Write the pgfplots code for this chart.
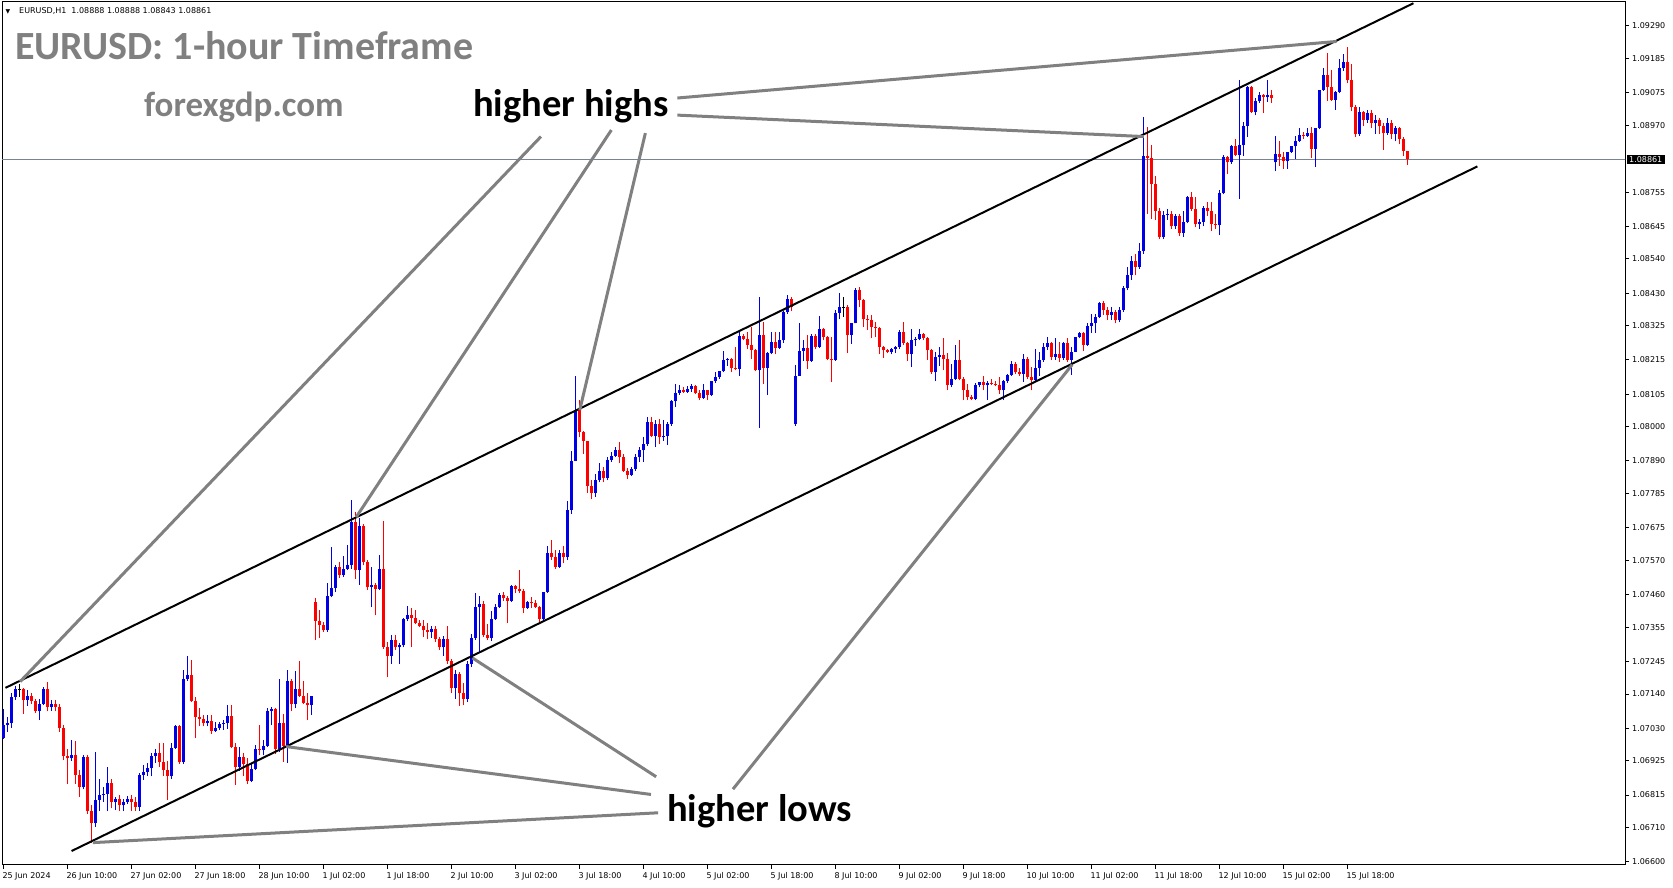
\documentclass[border=0pt]{standalone}
\usepackage{fontspec}
\setmainfont{DejaVu Sans}
\newfontfamily\carlito{Carlito}
\usepackage{pgfplots}
\usepackage{pgfplotstable}
\pgfplotsset{compat=1.18}

\definecolor{bull}{RGB}{0,0,230}
\definecolor{bear}{RGB}{255,0,0}
\definecolor{annot}{RGB}{128,128,128}
\definecolor{pline}{RGB}{120,132,148}

% EURUSD H1, one row per bar: index, open, high, low, close
\pgfplotstableread{
k o h l c
0 1.06998 1.07091 1.06995 1.07039
1 1.07039 1.07067 1.07019 1.07046
2 1.07046 1.07142 1.07032 1.07132
3 1.07132 1.07166 1.07122 1.07156
4 1.07156 1.07173 1.07132 1.07156
5 1.07156 1.07159 1.07077 1.07122
6 1.07122 1.07152 1.07101 1.07135
7 1.07135 1.07142 1.07108 1.07118
8 1.07118 1.07125 1.07080 1.07084
9 1.07084 1.07125 1.07056 1.07108
10 1.07108 1.07163 1.07104 1.07156
11 1.07156 1.07180 1.07084 1.07098
12 1.07098 1.07122 1.07087 1.07108
13 1.07108 1.07122 1.07084 1.07098
14 1.07098 1.07108 1.07019 1.07032
15 1.07032 1.07039 1.06929 1.06940
16 1.06940 1.06964 1.06851 1.06933
17 1.06933 1.06991 1.06926 1.06943
18 1.06943 1.06988 1.06851 1.06881
19 1.06881 1.06895 1.06809 1.06840
20 1.06840 1.06943 1.06833 1.06936
21 1.06936 1.06943 1.06754 1.06765
22 1.06765 1.06782 1.06662 1.06724
23 1.06724 1.06953 1.06713 1.06799
24 1.06799 1.06868 1.06765 1.06816
25 1.06816 1.06840 1.06792 1.06820
26 1.06820 1.06905 1.06765 1.06854
27 1.06854 1.06868 1.06772 1.06792
28 1.06792 1.06809 1.06768 1.06803
29 1.06803 1.06816 1.06765 1.06782
30 1.06782 1.06803 1.06765 1.06792
31 1.06792 1.06813 1.06785 1.06803
32 1.06803 1.06816 1.06765 1.06792
33 1.06792 1.06809 1.06765 1.06778
34 1.06778 1.06885 1.06765 1.06881
35 1.06881 1.06912 1.06864 1.06888
36 1.06888 1.06919 1.06875 1.06902
37 1.06902 1.06950 1.06875 1.06940
38 1.06940 1.06964 1.06919 1.06950
39 1.06950 1.06981 1.06905 1.06923
40 1.06923 1.06984 1.06875 1.06895
41 1.06895 1.06926 1.06799 1.06875
42 1.06875 1.06981 1.06868 1.06967
43 1.06967 1.07039 1.06964 1.07036
44 1.07036 1.07039 1.06916 1.06923
45 1.06923 1.07218 1.06916 1.07190
46 1.07190 1.07262 1.07183 1.07200
47 1.07200 1.07249 1.07115 1.07118
48 1.07118 1.07132 1.06998 1.07067
49 1.07067 1.07094 1.07036 1.07060
50 1.07060 1.07074 1.07036 1.07046
51 1.07046 1.07074 1.07036 1.07053
52 1.07053 1.07074 1.07012 1.07022
53 1.07022 1.07050 1.07019 1.07032
54 1.07032 1.07050 1.07026 1.07043
55 1.07043 1.07056 1.07026 1.07046
56 1.07046 1.07104 1.07029 1.07070
57 1.07070 1.07104 1.06967 1.06971
58 1.06971 1.06984 1.06847 1.06905
59 1.06905 1.06971 1.06892 1.06936
60 1.06936 1.06950 1.06875 1.06916
61 1.06916 1.06933 1.06851 1.06861
62 1.06861 1.06916 1.06857 1.06899
63 1.06899 1.06977 1.06895 1.06964
64 1.06964 1.07039 1.06943 1.06960
65 1.06960 1.06991 1.06943 1.06974
66 1.06974 1.07094 1.06971 1.07087
67 1.07087 1.07098 1.07039 1.07091
68 1.07091 1.07094 1.06947 1.06964
69 1.06964 1.07190 1.06953 1.07046
70 1.07046 1.07077 1.06923 1.06974
71 1.06974 1.07218 1.06919 1.07183
72 1.07183 1.07187 1.07087 1.07108
73 1.07108 1.07214 1.07094 1.07156
74 1.07156 1.07245 1.07132 1.07135
75 1.07135 1.07183 1.07108 1.07111
76 1.07111 1.07142 1.07056 1.07104
77 1.07104 1.07135 1.07074 1.07135
78 1.07437 1.07448 1.07314 1.07375
79 1.07375 1.07410 1.07321 1.07362
80 1.07362 1.07372 1.07341 1.07345
81 1.07345 1.07496 1.07341 1.07454
82 1.07454 1.07612 1.07451 1.07482
83 1.07482 1.07554 1.07468 1.07550
84 1.07550 1.07564 1.07513 1.07523
85 1.07523 1.07585 1.07516 1.07544
86 1.07544 1.07619 1.07540 1.07554
87 1.07554 1.07763 1.07544 1.07695
88 1.07695 1.07725 1.07509 1.07540
89 1.07540 1.07708 1.07492 1.07681
90 1.07681 1.07688 1.07554 1.07564
91 1.07564 1.07571 1.07475 1.07485
92 1.07485 1.07550 1.07420 1.07492
93 1.07492 1.07496 1.07393 1.07478
94 1.07478 1.07588 1.07475 1.07544
95 1.07544 1.07698 1.07286 1.07293
96 1.07293 1.07307 1.07194 1.07262
97 1.07262 1.07331 1.07238 1.07314
98 1.07314 1.07331 1.07283 1.07290
99 1.07290 1.07303 1.07238 1.07297
100 1.07297 1.07386 1.07290 1.07382
101 1.07382 1.07424 1.07375 1.07396
102 1.07396 1.07417 1.07293 1.07386
103 1.07386 1.07410 1.07365 1.07369
104 1.07369 1.07379 1.07355 1.07358
105 1.07358 1.07379 1.07324 1.07345
106 1.07345 1.07369 1.07317 1.07341
107 1.07341 1.07358 1.07321 1.07348
108 1.07348 1.07358 1.07307 1.07317
109 1.07317 1.07324 1.07283 1.07290
110 1.07290 1.07327 1.07262 1.07317
111 1.07317 1.07358 1.07238 1.07245
112 1.07245 1.07252 1.07142 1.07159
113 1.07159 1.07218 1.07125 1.07204
114 1.07204 1.07211 1.07101 1.07142
115 1.07142 1.07176 1.07104 1.07125
116 1.07125 1.07245 1.07115 1.07238
117 1.07238 1.07334 1.07228 1.07321
118 1.07321 1.07465 1.07314 1.07420
119 1.07420 1.07454 1.07273 1.07430
120 1.07430 1.07441 1.07324 1.07331
121 1.07331 1.07365 1.07314 1.07321
122 1.07321 1.07406 1.07310 1.07382
123 1.07382 1.07430 1.07379 1.07420
124 1.07420 1.07465 1.07417 1.07458
125 1.07458 1.07468 1.07441 1.07448
126 1.07448 1.07454 1.07369 1.07441
127 1.07441 1.07492 1.07437 1.07489
128 1.07489 1.07492 1.07465 1.07478
129 1.07478 1.07540 1.07465 1.07472
130 1.07472 1.07478 1.07400 1.07417
131 1.07417 1.07441 1.07413 1.07437
132 1.07437 1.07451 1.07417 1.07434
133 1.07434 1.07444 1.07417 1.07420
134 1.07420 1.07424 1.07365 1.07382
135 1.07382 1.07468 1.07375 1.07468
136 1.07468 1.07616 1.07465 1.07595
137 1.07595 1.07636 1.07571 1.07581
138 1.07581 1.07605 1.07544 1.07550
139 1.07550 1.07605 1.07547 1.07595
140 1.07595 1.07616 1.07561 1.07581
141 1.07581 1.07760 1.07571 1.07732
142 1.07732 1.07921 1.07719 1.07890
143 1.07890 1.08165 1.07890 1.08055
144 1.08055 1.08086 1.07966 1.07983
145 1.07983 1.07986 1.07914 1.07955
146 1.07955 1.07955 1.07787 1.07811
147 1.07811 1.07828 1.07767 1.07787
148 1.07787 1.07849 1.07774 1.07828
149 1.07828 1.07883 1.07821 1.07859
150 1.07859 1.07870 1.07821 1.07835
151 1.07835 1.07904 1.07828 1.07894
152 1.07894 1.07918 1.07887 1.07907
153 1.07907 1.07935 1.07904 1.07924
154 1.07924 1.07952 1.07883 1.07904
155 1.07904 1.07914 1.07856 1.07859
156 1.07859 1.07866 1.07832 1.07846
157 1.07846 1.07870 1.07842 1.07863
158 1.07863 1.07914 1.07859 1.07904
159 1.07904 1.07935 1.07887 1.07924
160 1.07924 1.07966 1.07887 1.07945
161 1.07945 1.08031 1.07938 1.08017
162 1.08017 1.08031 1.07966 1.07972
163 1.07972 1.08021 1.07935 1.08010
164 1.08010 1.08024 1.07945 1.07966
165 1.07966 1.08021 1.07955 1.07969
166 1.07969 1.08014 1.07942 1.08010
167 1.08010 1.08086 1.08003 1.08082
168 1.08082 1.08137 1.08065 1.08110
169 1.08110 1.08134 1.08103 1.08120
170 1.08120 1.08127 1.08110 1.08113
171 1.08113 1.08130 1.08110 1.08123
172 1.08123 1.08137 1.08113 1.08130
173 1.08130 1.08134 1.08106 1.08110
174 1.08110 1.08117 1.08086 1.08093
175 1.08093 1.08137 1.08089 1.08117
176 1.08117 1.08120 1.08086 1.08103
177 1.08103 1.08147 1.08099 1.08147
178 1.08147 1.08175 1.08141 1.08161
179 1.08161 1.08178 1.08154 1.08178
180 1.08178 1.08244 1.08175 1.08216
181 1.08216 1.08223 1.08195 1.08219
182 1.08219 1.08223 1.08175 1.08189
183 1.08189 1.08257 1.08182 1.08185
184 1.08185 1.08305 1.08165 1.08292
185 1.08292 1.08298 1.08278 1.08281
186 1.08281 1.08305 1.08250 1.08264
187 1.08264 1.08322 1.08219 1.08247
188 1.08247 1.08250 1.08178 1.08182
189 1.08182 1.08418 1.07997 1.08295
190 1.08295 1.08336 1.08137 1.08189
191 1.08189 1.08240 1.08103 1.08237
192 1.08237 1.08305 1.08233 1.08274
193 1.08274 1.08305 1.08233 1.08254
194 1.08254 1.08305 1.08250 1.08278
195 1.08278 1.08374 1.08271 1.08370
196 1.08370 1.08425 1.08364 1.08412
197 1.08412 1.08418 1.08374 1.08384
198 1.08010 1.08199 1.08003 1.08165
199 1.08165 1.08333 1.08165 1.08244
200 1.08244 1.08278 1.08213 1.08254
201 1.08254 1.08295 1.08185 1.08213
202 1.08213 1.08298 1.08209 1.08292
203 1.08292 1.08298 1.08250 1.08257
204 1.08257 1.08357 1.08254 1.08316
205 1.08316 1.08319 1.08278 1.08288
206 1.08288 1.08292 1.08216 1.08219
207 1.08219 1.08288 1.08144 1.08216
208 1.08216 1.08377 1.08213 1.08367
209 1.08367 1.08429 1.08346 1.08384
210 1.08384 1.08418 1.08353 1.08384
211 1.08384 1.08391 1.08237 1.08295
212 1.08295 1.08333 1.08268 1.08333
213 1.08333 1.08446 1.08333 1.08439
214 1.08439 1.08449 1.08384 1.08408
215 1.08408 1.08412 1.08322 1.08346
216 1.08346 1.08360 1.08312 1.08343
217 1.08343 1.08360 1.08285 1.08322
218 1.08322 1.08336 1.08288 1.08319
219 1.08319 1.08322 1.08233 1.08257
220 1.08257 1.08261 1.08223 1.08247
221 1.08247 1.08250 1.08237 1.08240
222 1.08240 1.08254 1.08233 1.08250
223 1.08250 1.08261 1.08237 1.08257
224 1.08257 1.08312 1.08250 1.08305
225 1.08305 1.08336 1.08264 1.08271
226 1.08271 1.08274 1.08213 1.08233
227 1.08233 1.08316 1.08192 1.08278
228 1.08278 1.08288 1.08261 1.08281
229 1.08281 1.08316 1.08278 1.08298
230 1.08298 1.08302 1.08278 1.08285
231 1.08285 1.08288 1.08216 1.08247
232 1.08247 1.08250 1.08171 1.08175
233 1.08175 1.08240 1.08147 1.08226
234 1.08226 1.08257 1.08195 1.08230
235 1.08230 1.08285 1.08182 1.08219
236 1.08219 1.08237 1.08117 1.08134
237 1.08134 1.08202 1.08127 1.08154
238 1.08154 1.08264 1.08151 1.08216
239 1.08216 1.08278 1.08151 1.08154
240 1.08154 1.08161 1.08086 1.08120
241 1.08120 1.08137 1.08086 1.08096
242 1.08096 1.08103 1.08086 1.08089
243 1.08089 1.08141 1.08086 1.08134
244 1.08134 1.08144 1.08127 1.08144
245 1.08144 1.08165 1.08117 1.08134
246 1.08134 1.08147 1.08086 1.08141
247 1.08141 1.08154 1.08134 1.08137
248 1.08137 1.08147 1.08130 1.08134
249 1.08134 1.08161 1.08106 1.08117
250 1.08117 1.08151 1.08086 1.08147
251 1.08147 1.08171 1.08141 1.08168
252 1.08168 1.08213 1.08165 1.08202
253 1.08202 1.08209 1.08171 1.08175
254 1.08175 1.08189 1.08165 1.08171
255 1.08171 1.08233 1.08144 1.08219
256 1.08219 1.08226 1.08154 1.08161
257 1.08161 1.08192 1.08117 1.08151
258 1.08151 1.08250 1.08144 1.08189
259 1.08189 1.08240 1.08165 1.08216
260 1.08216 1.08271 1.08209 1.08257
261 1.08257 1.08288 1.08247 1.08271
262 1.08271 1.08274 1.08216 1.08226
263 1.08226 1.08285 1.08216 1.08233
264 1.08233 1.08274 1.08209 1.08223
265 1.08223 1.08274 1.08216 1.08271
266 1.08271 1.08285 1.08209 1.08216
267 1.08216 1.08257 1.08168 1.08240
268 1.08240 1.08288 1.08240 1.08288
269 1.08288 1.08305 1.08285 1.08302
270 1.08302 1.08305 1.08244 1.08264
271 1.08264 1.08333 1.08261 1.08326
272 1.08326 1.08364 1.08302 1.08333
273 1.08333 1.08364 1.08302 1.08353
274 1.08353 1.08401 1.08350 1.08398
275 1.08398 1.08405 1.08360 1.08377
276 1.08377 1.08384 1.08343 1.08360
277 1.08360 1.08384 1.08343 1.08370
278 1.08370 1.08377 1.08333 1.08343
279 1.08343 1.08384 1.08336 1.08377
280 1.08377 1.08453 1.08370 1.08446
281 1.08446 1.08515 1.08439 1.08487
282 1.08487 1.08549 1.08473 1.08532
283 1.08532 1.08556 1.08487 1.08515
284 1.08515 1.08590 1.08508 1.08566
285 1.08566 1.08998 1.08556 1.08871
286 1.08871 1.08964 1.08686 1.08865
287 1.08865 1.08906 1.08669 1.08782
288 1.08782 1.08806 1.08665 1.08696
289 1.08696 1.08703 1.08604 1.08611
290 1.08611 1.08696 1.08604 1.08683
291 1.08683 1.08700 1.08665 1.08686
292 1.08686 1.08696 1.08638 1.08645
293 1.08645 1.08686 1.08638 1.08679
294 1.08679 1.08686 1.08614 1.08624
295 1.08624 1.08693 1.08611 1.08659
296 1.08659 1.08744 1.08655 1.08738
297 1.08738 1.08755 1.08696 1.08700
298 1.08700 1.08738 1.08642 1.08652
299 1.08652 1.08669 1.08638 1.08659
300 1.08659 1.08710 1.08645 1.08703
301 1.08703 1.08724 1.08679 1.08693
302 1.08693 1.08724 1.08631 1.08652
303 1.08652 1.08686 1.08638 1.08648
304 1.08648 1.08762 1.08617 1.08751
305 1.08751 1.08875 1.08748 1.08868
306 1.08868 1.08871 1.08813 1.08851
307 1.08851 1.08906 1.08847 1.08902
308 1.08902 1.08926 1.08871 1.08875
309 1.08875 1.09115 1.08734 1.08906
310 1.08906 1.08981 1.08871 1.08967
311 1.08967 1.09098 1.08933 1.09094
312 1.09094 1.09098 1.09009 1.09012
313 1.09012 1.09057 1.09002 1.09050
314 1.09050 1.09077 1.09043 1.09067
315 1.09067 1.09070 1.09009 1.09060
316 1.09060 1.09115 1.09046 1.09067
317 1.09067 1.09084 1.09043 1.09057
318 1.08851 1.08937 1.08823 1.08878
319 1.08878 1.08919 1.08840 1.08868
320 1.08868 1.08885 1.08830 1.08854
321 1.08854 1.08885 1.08830 1.08885
322 1.08885 1.08902 1.08882 1.08902
323 1.08902 1.08937 1.08861 1.08919
324 1.08919 1.08961 1.08916 1.08940
325 1.08940 1.08950 1.08926 1.08937
326 1.08937 1.08961 1.08933 1.08947
327 1.08947 1.08964 1.08865 1.08895
328 1.08895 1.08961 1.08837 1.08961
329 1.08961 1.09084 1.08957 1.09084
330 1.09084 1.09153 1.09081 1.09132
331 1.09132 1.09204 1.09050 1.09094
332 1.09094 1.09149 1.09050 1.09053
333 1.09053 1.09081 1.09019 1.09077
334 1.09077 1.09184 1.09074 1.09153
335 1.09153 1.09201 1.09146 1.09173
336 1.09173 1.09221 1.09105 1.09115
337 1.09115 1.09166 1.09015 1.09029
338 1.09029 1.09036 1.08933 1.08943
339 1.08943 1.09029 1.08937 1.09012
340 1.09012 1.09015 1.08967 1.08988
341 1.08988 1.09019 1.08978 1.09009
342 1.09009 1.09019 1.08961 1.08978
343 1.08978 1.09002 1.08943 1.08988
344 1.08988 1.08995 1.08943 1.08967
345 1.08967 1.08978 1.08892 1.08947
346 1.08947 1.08995 1.08940 1.08978
347 1.08978 1.08988 1.08926 1.08943
348 1.08943 1.08967 1.08919 1.08961
349 1.08961 1.08964 1.08909 1.08926
350 1.08926 1.08933 1.08871 1.08888
351 1.08888 1.08888 1.08843 1.08861
}\candles

\begin{document}
\begin{tikzpicture}[x=1pt,y=1pt]
\path[use as bounding box, fill=white] (-2,-23) rectangle (1671,865);
\begin{axis}[
    scale only axis,
    width=1623pt, height=863pt,
    xmin=-0.33, xmax=405.4,
    ymin=1.06590, ymax=1.09367,
    axis line style={black, line width=1pt},
    tick align=outside,
    major tick length=4pt,
    tick style={black, line width=1pt},
    xtick pos=bottom,
    ytick pos=right,
    yticklabel pos=right,
    xtick={0,16,...,336},
    xticklabels={25 Jun 2024, 26 Jun 10:00, 27 Jun 02:00, 27 Jun 18:00, 28 Jun 10:00,
        1 Jul 02:00, 1 Jul 18:00, 2 Jul 10:00, 3 Jul 02:00, 3 Jul 18:00, 4 Jul 10:00,
        5 Jul 02:00, 5 Jul 18:00, 8 Jul 10:00, 9 Jul 02:00, 9 Jul 18:00, 10 Jul 10:00,
        11 Jul 02:00, 11 Jul 18:00, 12 Jul 10:00, 15 Jul 02:00, 15 Jul 18:00},
    ytick={1.09290,1.09185,1.09075,1.08970,1.08755,1.08645,1.08540,1.08430,1.08325,
        1.08215,1.08105,1.08000,1.07890,1.07785,1.07675,1.07570,1.07460,1.07355,
        1.07245,1.07140,1.07030,1.06925,1.06815,1.06710,1.06600},
    yticklabels={1.09290,1.09185,1.09075,1.08970,1.08755,1.08645,1.08540,1.08430,1.08325,
        1.08215,1.08105,1.08000,1.07890,1.07785,1.07675,1.07570,1.07460,1.07355,
        1.07245,1.07140,1.07030,1.06925,1.06815,1.06710,1.06600},
    xticklabel style={anchor=north west, inner sep=0pt, xshift=-1pt, yshift=-3pt,
        font=\fontsize{8}{9}\selectfont},
    yticklabel style={anchor=west, inner sep=0pt, xshift=3pt,
        font=\fontsize{8}{9}\selectfont},
    candle/.style 2 args={draw=none, no markers,
        error bars/y dir=plus, error bars/y explicit, error bars/error mark=none,
        error bars/error bar style={draw=#1, line width=#2}},
]
% current price line
\addplot[pline, line width=1pt] coordinates {(-1,1.08861) (406,1.08861)};

% bullish candles: wick, then body
\addplot[restrict expr to domain={\thisrow{c}-\thisrow{o}}{0.0000001:1}, candle={bull}{1pt}]
    table[x=k, y=l, y error expr=\thisrow{h}-\thisrow{l}] {\candles};
\addplot[restrict expr to domain={\thisrow{c}-\thisrow{o}}{0.0000001:1}, candle={bull}{3pt}]
    table[x=k, y=o, y error expr={max(\thisrow{c}-\thisrow{o},0.00003)}] {\candles};

% bearish candles: wick, then body
\addplot[restrict expr to domain={\thisrow{c}-\thisrow{o}}{-1:-0.0000001}, candle={bear}{1pt}]
    table[x=k, y=l, y error expr=\thisrow{h}-\thisrow{l}] {\candles};
\addplot[restrict expr to domain={\thisrow{c}-\thisrow{o}}{-1:-0.0000001}, candle={bear}{3pt}]
    table[x=k, y=c, y error expr={max(\thisrow{o}-\thisrow{c},0.00003)}] {\candles};

% doji
\addplot[restrict expr to domain={\thisrow{c}-\thisrow{o}}{-0.0000001:0.0000001}, candle={black}{1pt}]
    table[x=k, y=l, y error expr=\thisrow{h}-\thisrow{l}] {\candles};
\addplot[only marks, mark=-, mark size=1.5pt, black,
    restrict expr to domain={\thisrow{c}-\thisrow{o}}{-0.0000001:0.0000001}]
    table[x=k, y=c] {\candles};

% channel
\addplot[black, line width=2pt] coordinates {(0.53,1.07160) (352.5,1.09363)};
\addplot[black, line width=2pt] coordinates {(17.07,1.06635) (368.5,1.08838)};

% higher highs pointers
\addplot[annot, line width=3pt] coordinates {(168.5,1.09058) (333.3,1.09240)};
\addplot[annot, line width=3pt] coordinates {(168.5,1.09003) (285.1,1.08934)};
\addplot[annot, line width=3pt] coordinates {(160.5,1.08945) (144.1,1.08054)};
\addplot[annot, line width=3pt] coordinates {(152.0,1.08955) (88.2,1.07709)};
\addplot[annot, line width=3pt] coordinates {(134.4,1.08934) (4.2,1.07180)};

% higher lows pointers
\addplot[annot, line width=3pt] coordinates {(163.7,1.06758) (22.4,1.06662)};
\addplot[annot, line width=3pt] coordinates {(161.9,1.06817) (70.7,1.06971)};
\addplot[annot, line width=3pt] coordinates {(163.2,1.06874) (117.3,1.07256)};
\addplot[annot, line width=3pt] coordinates {(182.4,1.06834) (267.2,1.08200)};

\coordinate (cp) at (axis cs:405.4,1.08861);
\end{axis}

\node[fill=black, text=white, anchor=west, inner xsep=2.5pt, inner ysep=1.5pt,
    font=\fontsize{8}{9}\selectfont] at ([xshift=1.5pt]cp) {1.08861};

\node[anchor=base west, inner sep=0pt, font=\fontsize{6}{7}\selectfont] at (3.5,851.5) {▼};
\node[anchor=base west, inner sep=0pt, font=\fontsize{8}{9}\selectfont] at (17,851.5)
    {EURUSD,H1\ \ 1.08888 1.08888 1.08843 1.08861};

\node[anchor=base west, inner sep=0pt, text=annot,
    font=\carlito\bfseries\fontsize{40}{46}\selectfont] at (13,805) {EURUSD: 1-hour Timeframe};
\node[anchor=base west, inner sep=0pt, text=annot,
    font=\carlito\bfseries\fontsize{35}{40}\selectfont] at (142,748) {forexgdp.com};
\node[anchor=base west, inner sep=0pt,
    font=\carlito\bfseries\fontsize{38.5}{44}\selectfont] at (471,748) {higher highs};
\node[anchor=base west, inner sep=0pt,
    font=\carlito\bfseries\fontsize{38.5}{44}\selectfont] at (665,43) {higher lows};
\end{tikzpicture}
\end{document}
